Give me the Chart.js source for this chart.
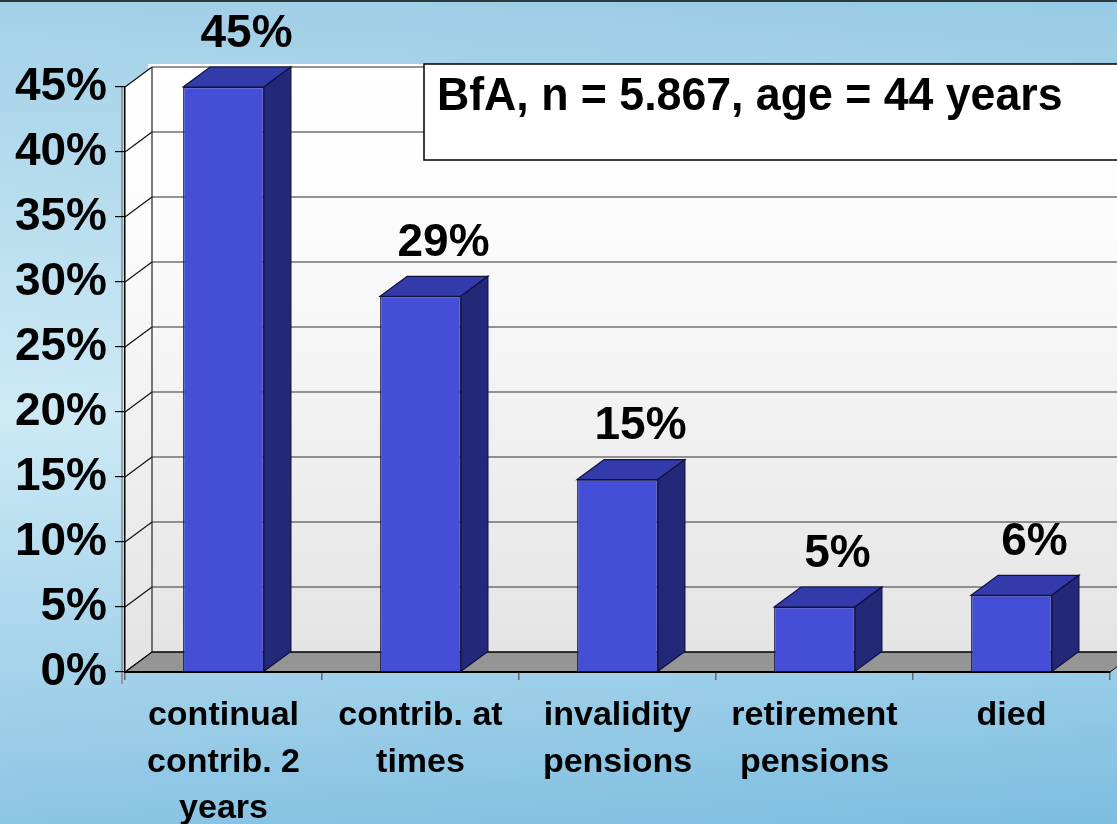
<!DOCTYPE html>
<html>
<head>
<meta charset="utf-8">
<script src="https://cdn.jsdelivr.net/npm/chart.js@4.4.1/dist/chart.umd.min.js"></script>
<style>
  html, body { margin: 0; padding: 0; background: #9ccde6; }
  #wrap { width: 1117px; height: 824px; }
</style>
</head>
<body>
<div id="wrap"><canvas id="c" width="1117" height="824"></canvas></div>
<script>
// ---- data ----
const categories = [
  ["continual", "contrib. 2", "years"],
  ["contrib. at", "times"],
  ["invalidity", "pensions"],
  ["retirement", "pensions"],
  ["died"]
];
const values = [45.0, 28.9, 14.8, 5.0, 5.9];
const yMin = 0;
const yMax = 45;
const yStep = 5;
const boxText = "BfA, n = 5.867, age = 44 years";

// ---- styling ----
const FONT = "'Liberation Sans', Arial, sans-serif";
const DX = 27, DY = 20; // 3D depth offset

const bg3d = {
  id: 'bg3d',
  beforeDraw(chart) {
    const ctx = chart.ctx;
    const W = chart.width, H = chart.height;
    const a = chart.chartArea;
    const ys = chart.scales.y;
    ctx.save();
    // page background
    const g = ctx.createLinearGradient(0, 0, 0, H);
    g.addColorStop(0, '#97cae4');
    g.addColorStop(0.5, '#c7e7f4');
    g.addColorStop(1, '#7dbde0');
    ctx.fillStyle = g;
    ctx.fillRect(0, 0, W, H);
    const g2 = ctx.createLinearGradient(0, 0, W, 0);
    g2.addColorStop(0, 'rgba(255,255,255,0.12)');
    g2.addColorStop(1, 'rgba(255,255,255,0)');
    ctx.fillStyle = g2;
    ctx.fillRect(0, 0, W, H);
    ctx.fillStyle = '#2c3a40';
    ctx.fillRect(0, 0, W, 2);

    const top = a.top, bottom = a.bottom, left = a.left, right = a.right;
    // back wall
    const wg = ctx.createLinearGradient(0, top - DY, 0, bottom - DY);
    wg.addColorStop(0, '#ffffff');
    wg.addColorStop(0.3, '#fbfbfb');
    wg.addColorStop(1, '#e4e4e4');
    ctx.fillStyle = '#ffffff';
    ctx.fillRect(left + DX - 4, top - DY - 3, W, 4);
    ctx.fillStyle = wg;
    ctx.fillRect(left + DX, top - DY, W, bottom - top);
    // side wall
    ctx.beginPath();
    ctx.moveTo(left, top);
    ctx.lineTo(left + DX, top - DY);
    ctx.lineTo(left + DX, bottom - DY);
    ctx.lineTo(left, bottom);
    ctx.closePath();
    ctx.fill();
    // floor
    ctx.fillStyle = '#959595';
    ctx.beginPath();
    ctx.moveTo(left, bottom);
    ctx.lineTo(left + DX, bottom - DY);
    ctx.lineTo(right + DX, bottom - DY);
    ctx.lineTo(right, bottom);
    ctx.closePath();
    ctx.fill();
    ctx.strokeStyle = '#000';
    ctx.lineWidth = 1;
    ctx.stroke();
    // gridlines
    ys.ticks.forEach(t => {
      const y = ys.getPixelForValue(t.value);
      ctx.strokeStyle = t.value === yMin ? '#000' : '#707070';
      ctx.lineWidth = t.value === yMin ? 1 : 1.6;
      ctx.beginPath();
      ctx.moveTo(left + DX, y - DY);
      ctx.lineTo(W, y - DY);
      ctx.stroke();
      ctx.strokeStyle = '#111';
      ctx.lineWidth = 1.2;
      ctx.beginPath();
      ctx.moveTo(left, y);
      ctx.lineTo(left + DX, y - DY);
      ctx.stroke();
    });
    // back wall left edge
    ctx.strokeStyle = '#222';
    ctx.lineWidth = 1.2;
    ctx.beginPath();
    ctx.moveTo(left + DX, top - DY);
    ctx.lineTo(left + DX, bottom - DY);
    ctx.stroke();
    // secondary grey line left of axis
    ctx.strokeStyle = '#777';
    ctx.beginPath();
    ctx.moveTo(left - 3, top);
    ctx.lineTo(left - 3, bottom + 12);
    ctx.stroke();
    ctx.restore();
  },
  afterDatasetsDraw(chart) {
    const ctx = chart.ctx;
    const meta = chart.getDatasetMeta(0);
    ctx.save();
    ctx.lineWidth = 1.2;
    ctx.strokeStyle = '#101040';
    meta.data.forEach(bar => {
      const p = bar.getProps(['x', 'y', 'base', 'width'], true);
      const x1 = p.x - p.width / 2, x2 = p.x + p.width / 2;
      // top face
      ctx.fillStyle = '#333aa9';
      ctx.beginPath();
      ctx.moveTo(x1, p.y);
      ctx.lineTo(x1 + DX, p.y - DY);
      ctx.lineTo(x2 + DX, p.y - DY);
      ctx.lineTo(x2, p.y);
      ctx.closePath();
      ctx.fill();
      ctx.stroke();
      // side face
      ctx.fillStyle = '#232879';
      ctx.beginPath();
      ctx.moveTo(x2, p.y);
      ctx.lineTo(x2 + DX, p.y - DY);
      ctx.lineTo(x2 + DX, p.base - DY);
      ctx.lineTo(x2, p.base);
      ctx.closePath();
      ctx.fill();
      ctx.stroke();
    });
    ctx.restore();
  },
  afterDraw(chart) {
    const ctx = chart.ctx;
    const meta = chart.getDatasetMeta(0);
    ctx.save();
    // data labels
    ctx.fillStyle = '#000';
    ctx.font = 'bold 46px ' + FONT;
    ctx.textAlign = 'center';
    ctx.textBaseline = 'middle';
    meta.data.forEach((bar, i) => {
      const p = bar.getProps(['x', 'y'], true);
      ctx.fillText(Math.round(values[i]) + '%', p.x + 23, p.y - 53);
    });
    // text box
    const a = chart.chartArea;
    const bx = a.left + 299, by = a.top - 23;
    ctx.fillStyle = '#ffffff';
    ctx.fillRect(bx, by, chart.width, 96);
    ctx.strokeStyle = '#000';
    ctx.lineWidth = 1.5;
    ctx.strokeRect(bx, by, chart.width, 96);
    ctx.fillStyle = '#000';
    ctx.font = 'bold 47px ' + FONT;
    ctx.textAlign = 'left';
    ctx.textBaseline = 'alphabetic';
    ctx.translate(bx + 13, by + 46);
    ctx.scale(0.95, 1);
    ctx.fillText(boxText, 0, 0);
    ctx.restore();
  }
};

new Chart(document.getElementById('c'), {
  type: 'bar',
  data: {
    labels: categories,
    datasets: [{
      data: values,
      backgroundColor: '#444ed6',
      borderColor: '#101040',
      borderWidth: 1.2,
      barPercentage: 0.41,
      categoryPercentage: 1.0
    }]
  },
  options: {
    responsive: false,
    animation: false,
    layout: { padding: { top: 87, right: 7, left: 0, bottom: 0 } },
    plugins: { legend: { display: false }, tooltip: { enabled: false } },
    scales: {
      x: {
        offset: true,
        grid: { display: true, drawOnChartArea: false, drawTicks: true, tickLength: 8, color: '#666', offset: true, lineWidth: 1.5 },
        border: { display: true, color: '#000', width: 2 },
        ticks: {
          color: '#000',
          font: { family: FONT, size: 34, weight: 'bold', lineHeight: 1.36 },
          padding: 13,
          maxRotation: 0,
          autoSkip: false
        },
        afterFit(s) { s.height = 152; }
      },
      y: {
        min: yMin,
        max: yMax,
        grid: { display: true, drawOnChartArea: false, drawTicks: true, tickLength: 10, color: '#000', lineWidth: 1.2 },
        border: { display: true, color: '#000', width: 1.5 },
        ticks: {
          stepSize: yStep,
          color: '#000',
          font: { family: FONT, size: 46, weight: 'bold' },
          padding: 8,
          callback: v => v + '%'
        },
        afterFit(s) { s.width = 125; }
      }
    }
  },
  plugins: [bg3d]
});
</script>
</body>
</html>
